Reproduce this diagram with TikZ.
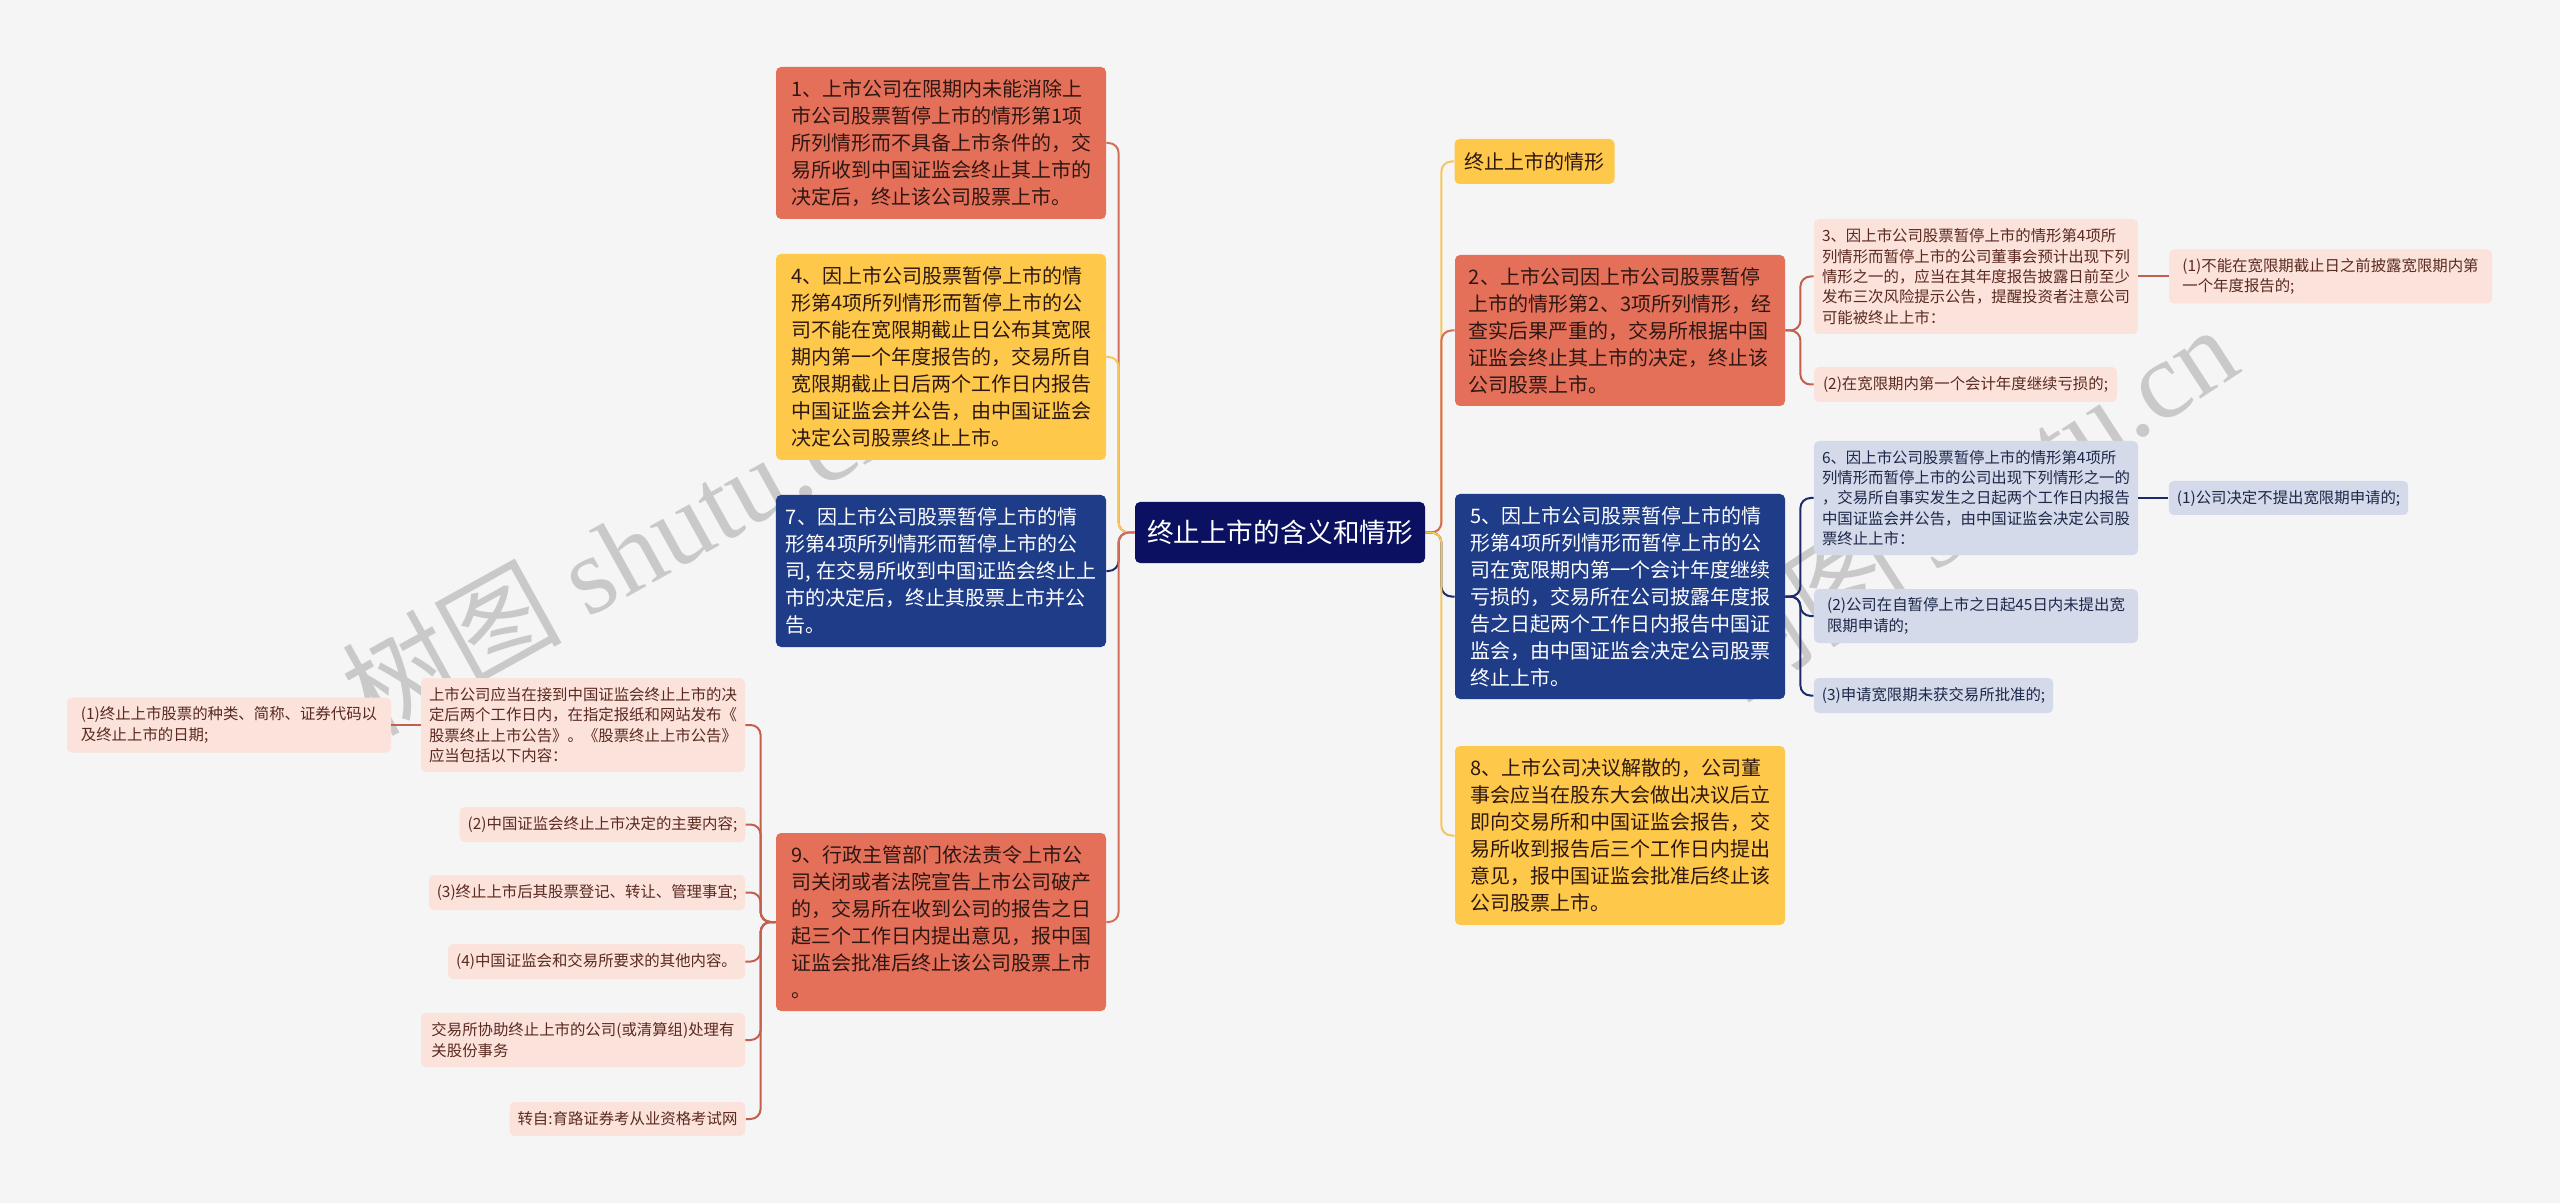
\documentclass[tikz,border=0pt]{standalone}
\usepackage{fontspec}
\setmainfont{Noto Sans CJK SC}
\newfontfamily\wmfont{Liberation Serif}
\usetikzlibrary{positioning,calc}
\definecolor{paper}{HTML}{F5F5F5}
\definecolor{rootblue}{HTML}{0B1160}
\definecolor{tomato}{HTML}{E5705A}
\definecolor{amber}{HTML}{FEC84A}
\definecolor{cobalt}{HTML}{1F3C88}
\definecolor{blush}{HTML}{FBE2DB}
\definecolor{mist}{HTML}{D4DAEA}
\definecolor{inkred}{HTML}{2E1712}
\definecolor{inkbrown}{HTML}{5A2A20}
\definecolor{inkblue}{HTML}{1C2748}
\definecolor{redline}{HTML}{D46E5B}
\definecolor{subred}{HTML}{C2604D}
\definecolor{goldline}{HTML}{F7C65A}
\definecolor{navyline}{HTML}{1B2A6B}
\tikzset{
  treenode/.style = {shape=rectangle, rounded corners=2.5pt, align=left,
                     inner xsep=5pt, inner ysep=0pt, minimum width=165pt,
                     font=\fontsize{10}{13.5}\selectfont},
  root/.style     = {treenode, fill=rootblue, text=white, align=center,
                     minimum width=145pt, minimum height=30.5pt,
                     font=\fontsize{13.3}{16}\selectfont},
  redenv/.style   = {treenode, fill=tomato, text=inkred},
  yellowenv/.style= {treenode, fill=amber, text=inkred},
  blueenv/.style  = {treenode, fill=cobalt, text=white},
  leaf/.style     = {shape=rectangle, rounded corners=2.5pt, align=left,
                     inner xsep=4pt, inner ysep=0pt,
                     font=\fontsize{7.7}{10.2}\selectfont},
  pinkleaf/.style = {leaf, fill=blush, text=inkbrown},
  greyleaf/.style = {leaf, fill=mist, text=inkblue},
  branch/.style   = {line width=1pt, rounded corners=5pt},
  wmark/.style    = {text=gray!75, opacity=0.5, font=\fontsize{55}{60}\selectfont}
}

\begin{document}
\begin{tikzpicture}[x=0.5pt,y=-0.5pt]
\fill [paper] (0,0) rectangle (2560,1203);
\useasboundingbox (0,0) rectangle (2560,1203);

\node [wmark, rotate=29] (wmleft) at (622,552) {树图 {\wmfont shutu.cn}};
\node [wmark, rotate=33] (wmright) at (1964,503) {树图 {\wmfont shutu.cn}};

\node [root] (root) at (1280,532.5) {终止上市的含义和情形};

\node [redenv, minimum height=76pt] (n1) at (941,143)
  {1、上市公司在限期内未能消除上\\市公司股票暂停上市的情形第1项\\所列情形而不具备上市条件的，交\\易所收到中国证监会终止其上市的\\决定后，终止该公司股票上市。};
\node [yellowenv, minimum height=103pt] (n4) at (941,357)
  {4、因上市公司股票暂停上市的情\\形第4项所列情形而暂停上市的公\\司不能在宽限期截止日公布其宽限\\期内第一个年度报告的，交易所自\\宽限期截止日后两个工作日内报告\\中国证监会并公告，由中国证监会\\决定公司股票终止上市。};
\node [blueenv, minimum height=76pt] (n7) at (941,571)
  {7、因上市公司股票暂停上市的情\\形第4项所列情形而暂停上市的公\\司, 在交易所收到中国证监会终止上\\市的决定后，终止其股票上市并公\\告。};
\node [redenv, minimum height=89pt] (n9) at (941,922)
  {9、行政主管部门依法责令上市公\\司关闭或者法院宣告上市公司破产\\的，交易所在收到公司的报告之日\\起三个工作日内提出意见，报中国\\证监会批准后终止该公司股票上市\\。};

\node [yellowenv, minimum width=79.5pt, minimum height=22.5pt] (r1) at (1534.5,161.5) {终止上市的情形};
\node [redenv, minimum height=75.5pt] (r2) at (1620,330.5)
  {2、上市公司因上市公司股票暂停\\上市的情形第2、3项所列情形，经\\查实后果严重的，交易所根据中国\\证监会终止其上市的决定，终止该\\公司股票上市。};
\node [blueenv, minimum height=102.5pt] (r5) at (1620,596.5)
  {5、因上市公司股票暂停上市的情\\形第4项所列情形而暂停上市的公\\司在宽限期内第一个会计年度继续\\亏损的，交易所在公司披露年度报\\告之日起两个工作日内报告中国证\\监会，由中国证监会决定公司股票\\终止上市。};
\node [yellowenv, minimum height=89.5pt] (r8) at (1620,835.5)
  {8、上市公司决议解散的，公司董\\事会应当在股东大会做出决议后立\\即向交易所和中国证监会报告，交\\易所收到报告后三个工作日内提出\\意见，报中国证监会批准后终止该\\公司股票上市。};

\node [pinkleaf, minimum width=162pt, minimum height=57.5pt] (r3) at (1976,276.5)
  {3、因上市公司股票暂停上市的情形第4项所\\列情形而暂停上市的公司董事会预计出现下列\\情形之一的，应当在其年度报告披露日前至少\\发布三次风险提示公告，提醒投资者注意公司\\可能被终止上市：};
\node [pinkleaf, minimum width=161.5pt, minimum height=27pt] (r3a) at (2330.5,276.5)
  {(1)不能在宽限期截止日之前披露宽限期内第\\一个年度报告的;};
\node [pinkleaf, minimum width=151.5pt, minimum height=17.5pt] (r2b) at (1965.5,384.5)
  {(2)在宽限期内第一个会计年度继续亏损的;};
\node [greyleaf, minimum width=162pt, minimum height=57pt] (r6) at (1976,498)
  {6、因上市公司股票暂停上市的情形第4项所\\列情形而暂停上市的公司出现下列情形之一的\\，交易所自事实发生之日起两个工作日内报告\\中国证监会并公告，由中国证监会决定公司股\\票终止上市：};
\node [greyleaf, minimum width=119pt, minimum height=17pt] (r6a) at (2288.5,498)
  {(1)公司决定不提出宽限期申请的;};
\node [greyleaf, minimum width=162pt, minimum height=27pt] (r5b) at (1976,616)
  {(2)公司在自暂停上市之日起45日内未提出宽\\限期申请的;};
\node [greyleaf, minimum width=119.5pt, minimum height=17.5pt] (r5c) at (1933.5,695.5)
  {(3)申请宽限期未获交易所批准的;};

\node [pinkleaf, minimum width=162pt, minimum height=47pt] (na) at (583,725)
  {上市公司应当在接到中国证监会终止上市的决\\定后两个工作日内，在指定报纸和网站发布《\\股票终止上市公告》。《股票终止上市公告》\\应当包括以下内容：};
\node [pinkleaf, minimum width=162pt, minimum height=27.5pt] (naa) at (229,725)
  {(1)终止上市股票的种类、简称、证券代码以\\及终止上市的日期;};
\node [pinkleaf, minimum width=142.5pt, minimum height=17.5pt] (nb) at (602.5,824.5)
  {(2)中国证监会终止上市决定的主要内容;};
\node [pinkleaf, minimum width=158pt, minimum height=17.5pt] (nc) at (587,892.5)
  {(3)终止上市后其股票登记、转让、管理事宜;};
\node [pinkleaf, minimum width=148.5pt, minimum height=17.5pt] (nd) at (596.5,961.5)
  {(4)中国证监会和交易所要求的其他内容。};
\node [pinkleaf, minimum width=162pt, minimum height=27pt] (ne) at (583,1040)
  {交易所协助终止上市的公司(或清算组)处理有\\关股份事务};
\node [pinkleaf, minimum width=117.5pt, minimum height=17pt] (nf) at (627.5,1119)
  {转自:育路证券考从业资格考试网};

\draw [branch, navyline] (root.west) -- ++(-16,0) |- (n7.east);
\draw [branch, redline] (root.west) -- ++(-16,0) |- (n1.east);
\draw [branch, goldline] (root.west) -- ++(-16,0) |- (n4.east);
\draw [branch, redline] (root.west) -- ++(-16,0) |- (n9.east);

\draw [branch, goldline] (root.east) -- ++(16,0) |- (r1.west);
\draw [branch, redline] (root.east) -- ++(16,0) |- (r2.west);
\draw [branch, navyline] (root.east) -- ++(16,0) |- (r5.west);
\draw [branch, goldline] (root.east) -- ++(16,0) |- (r8.west);

\draw [branch, subred] (r2.east) -- ++(15,0) |- (r3.west);
\draw [branch, subred] (r2.east) -- ++(15,0) |- (r2b.west);
\draw [branch, subred] (r3.east) -- (r3a.west);
\draw [branch, navyline] (r5.east) -- ++(15,0) |- (r6.west);
\draw [branch, navyline] (r5.east) -- ++(15,0) |- (r5b.west);
\draw [branch, navyline] (r5.east) -- ++(15,0) |- (r5c.west);
\draw [branch, navyline] (r6.east) -- (r6a.west);

\foreach \kid in {na,nb,nc,nd,ne,nf}
  \draw [branch, subred] (n9.west) -- ++(-15,0) |- (\kid.east);
\draw [branch, subred] (na.west) -- (naa.east);
\end{tikzpicture}
\end{document}
